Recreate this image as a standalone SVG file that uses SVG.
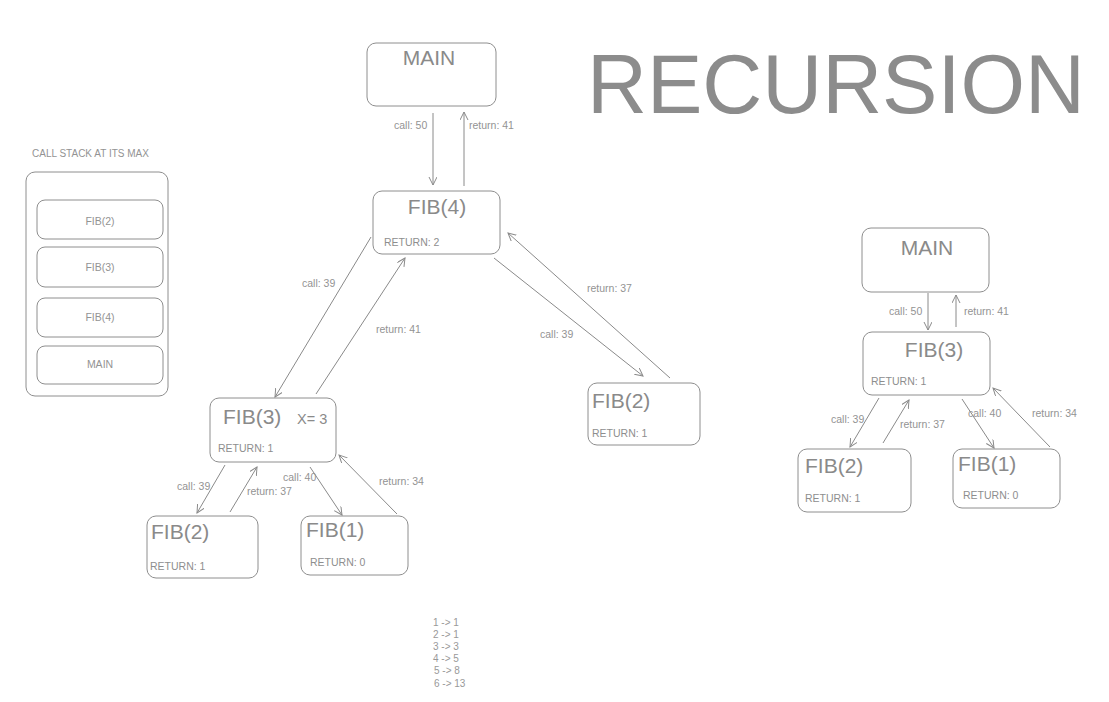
<svg xmlns="http://www.w3.org/2000/svg" width="1109" height="702" viewBox="0 0 1109 702">
<style>
  text { font-family: "Liberation Sans", Arial, sans-serif; }
  .box { fill: #ffffff; stroke: #8e8e8e; stroke-width: 1; }
  .big { font-size: 21px; fill: #8a8a8a; }
  .ret { font-size: 10.5px; fill: #8e8e8e; }
  .lbl { font-size: 10.5px; fill: #939393; }
  .stk { font-size: 10.5px; fill: #939393; text-anchor: middle; }
  .num { font-size: 10px; fill: #999999; }
  .conn line { stroke: #8a8a8a; stroke-width: 1; marker-end: url(#arr); }
</style>
<defs>
  <marker id="arr" markerUnits="userSpaceOnUse" markerWidth="12" markerHeight="12" refX="8" refY="4" orient="auto">
    <path d="M0,0 L8,4 L0,8" fill="none" stroke="#8a8a8a" stroke-width="1"/>
  </marker>
</defs>
<rect width="1109" height="702" fill="#ffffff"/>

<text x="587" y="113" font-size="83" fill="#8c8c8c" font-family="Liberation Sans, Arial, sans-serif">RECURSION</text>

<!-- Call stack -->
<g id="callstack">
  <text x="32" y="157" font-size="10" fill="#939393">CALL STACK AT ITS MAX</text>
  <rect class="box" x="26" y="172" width="142" height="224" rx="9"/>
  <rect class="box" x="37" y="200" width="126" height="39" rx="8"/>
  <text class="stk" x="100" y="224.5">FIB(2)</text>
  <rect class="box" x="37" y="247" width="126" height="40" rx="8"/>
  <text class="stk" x="100" y="271">FIB(3)</text>
  <rect class="box" x="37" y="298" width="126" height="39" rx="8"/>
  <text class="stk" x="100" y="320.5">FIB(4)</text>
  <rect class="box" x="37" y="346" width="126" height="38" rx="8"/>
  <text class="stk" x="100" y="368">MAIN</text>
</g>

<!-- Left tree nodes -->
<g id="main1">
  <rect class="box" x="367" y="43" width="129" height="63" rx="9"/>
  <text class="big" x="429" y="65" text-anchor="middle">MAIN</text>
</g>
<g id="fib4">
  <rect class="box" x="373" y="191" width="127" height="63" rx="9"/>
  <text class="big" x="437" y="214" text-anchor="middle">FIB(4)</text>
  <text class="ret" x="384" y="246">RETURN: 2</text>
</g>
<g id="fib3a">
  <rect class="box" x="210" y="398" width="126" height="64" rx="9"/>
  <text class="big" x="223" y="424">FIB(3)</text>
  <text x="297" y="424" font-size="14.5" fill="#8a8a8a">X= 3</text>
  <text class="ret" x="218" y="452">RETURN: 1</text>
</g>
<g id="fib2b">
  <rect class="box" x="588" y="383" width="112" height="62" rx="9"/>
  <text class="big" x="592" y="408">FIB(2)</text>
  <text class="ret" x="592" y="437">RETURN: 1</text>
</g>
<g id="fib2a">
  <rect class="box" x="147" y="516" width="111" height="62" rx="9"/>
  <text class="big" x="151" y="539">FIB(2)</text>
  <text class="ret" x="150" y="570">RETURN: 1</text>
</g>
<g id="fib1a">
  <rect class="box" x="301" y="516" width="107" height="59" rx="9"/>
  <text class="big" x="306" y="537">FIB(1)</text>
  <text class="ret" x="310" y="566">RETURN: 0</text>
</g>

<!-- Right tree nodes -->
<g id="main2">
  <rect class="box" x="862" y="228" width="127" height="64" rx="9"/>
  <text class="big" x="927" y="255" text-anchor="middle">MAIN</text>
</g>
<g id="fib3b">
  <rect class="box" x="863" y="332" width="127" height="63" rx="9"/>
  <text class="big" x="934" y="357" text-anchor="middle">FIB(3)</text>
  <text class="ret" x="871" y="385">RETURN: 1</text>
</g>
<g id="fib2c">
  <rect class="box" x="798" y="449" width="113" height="63" rx="9"/>
  <text class="big" x="805" y="473">FIB(2)</text>
  <text class="ret" x="805" y="502">RETURN: 1</text>
</g>
<g id="fib1b">
  <rect class="box" x="953" y="449" width="107" height="59" rx="9"/>
  <text class="big" x="958" y="471">FIB(1)</text>
  <text class="ret" x="963" y="499">RETURN: 0</text>
</g>

<!-- Connectors -->
<g id="connectors" class="conn">
  <line x1="433" y1="113" x2="433" y2="185"/>
  <line x1="464" y1="186" x2="464" y2="112"/>
  <line x1="371" y1="237" x2="275" y2="397"/>
  <line x1="316" y1="394" x2="405" y2="258"/>
  <line x1="494" y1="258" x2="643" y2="376"/>
  <line x1="670" y1="378" x2="508" y2="233"/>
  <line x1="225" y1="465" x2="197" y2="513"/>
  <line x1="230" y1="512" x2="257" y2="467"/>
  <line x1="310" y1="467" x2="342" y2="515"/>
  <line x1="397" y1="514" x2="339" y2="455"/>
  <line x1="928" y1="293" x2="928" y2="330"/>
  <line x1="956" y1="327" x2="956" y2="295"/>
  <line x1="879" y1="398" x2="850" y2="447"/>
  <line x1="883" y1="443" x2="909" y2="400"/>
  <line x1="962" y1="399" x2="994" y2="448"/>
  <line x1="1050" y1="447" x2="993" y2="388"/>
</g>

<!-- Connector labels -->
<g id="labels">
  <text class="lbl" x="394" y="129">call: 50</text>
  <text class="lbl" x="469" y="129">return: 41</text>
  <text class="lbl" x="302" y="287">call: 39</text>
  <text class="lbl" x="376" y="333">return: 41</text>
  <text class="lbl" x="587" y="292">return: 37</text>
  <text class="lbl" x="540" y="338">call: 39</text>
  <text class="lbl" x="177" y="490">call: 39</text>
  <text class="lbl" x="247" y="495">return: 37</text>
  <text class="lbl" x="283" y="481">call: 40</text>
  <text class="lbl" x="379" y="485">return: 34</text>
  <text class="lbl" x="889" y="315">call: 50</text>
  <text class="lbl" x="964" y="315">return: 41</text>
  <text class="lbl" x="831" y="423">call: 39</text>
  <text class="lbl" x="900" y="428">return: 37</text>
  <text class="lbl" x="968" y="417">call: 40</text>
  <text class="lbl" x="1032" y="417">return: 34</text>
</g>

<g id="sequence">
  <text class="num" x="433" y="625.5">1 -&gt; 1</text>
  <text class="num" x="433" y="637.7">2 -&gt; 1</text>
  <text class="num" x="433" y="649.9">3 -&gt; 3</text>
  <text class="num" x="433" y="662.1">4 -&gt; 5</text>
  <text class="num" x="434" y="674.3">5 -&gt; 8</text>
  <text class="num" x="434" y="686.5">6 -&gt; 13</text>
</g>
</svg>
